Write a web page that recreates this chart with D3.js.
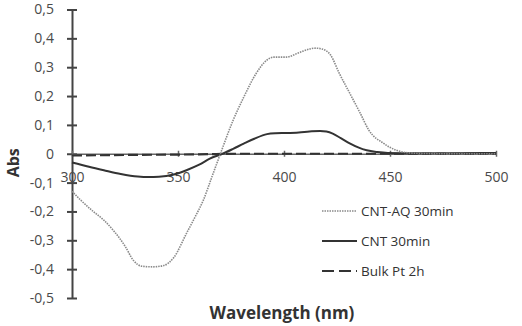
<!DOCTYPE html>
<html>
<head>
<meta charset="utf-8">
<script src="https://cdn.jsdelivr.net/npm/d3@7"></script>
<style>
  body { margin: 0; background: #fff; }
  svg { display: block; }
</style>
</head>
<body>
<svg id="chart" width="522" height="326"></svg>
<script>
// wavelength (nm) / absorbance
const aqWl  = [300, 304, 310, 315, 320, 325, 329, 333, 338, 343, 348, 354, 358, 362, 366, 370, 376, 381, 387, 392, 395, 401, 407, 412, 415, 418, 422, 426, 431, 436, 440, 447, 453, 459, 465, 480, 500];
const aqAbs = [-0.13, -0.16, -0.2, -0.23, -0.27, -0.32, -0.37, -0.39, -0.392, -0.388, -0.36, -0.276, -0.22, -0.16, -0.08, 0.0, 0.116, 0.196, 0.28, 0.325, 0.335, 0.335, 0.35, 0.363, 0.366, 0.363, 0.342, 0.28, 0.21, 0.14, 0.082, 0.036, 0.012, 0.003, 0.001, 0, 0];

const cntWl  = [300, 308, 315, 323, 331, 336, 341, 348, 354, 360, 365, 371, 376, 381, 386, 392, 396, 401, 407, 412, 417, 420, 423, 427, 431, 435, 439, 444, 449, 460, 480, 500];
const cntAbs = [-0.03, -0.045, -0.057, -0.07, -0.079, -0.081, -0.08, -0.072, -0.057, -0.038, -0.017, 0.0, 0.017, 0.035, 0.052, 0.068, 0.071, 0.072, 0.074, 0.077, 0.079, 0.077, 0.07, 0.053, 0.036, 0.022, 0.012, 0.006, 0.003, 0.002, 0.002, 0.003];

const bulkWl  = [300, 330, 360, 380, 420, 460, 500];
const bulkAbs = [-0.006, -0.004, -0.002, 0, 0, 0, 0];

const seriesNames = ["CNT-AQ 30min", "CNT 30min", "Bulk Pt 2h"];
const xTicks = [300, 350, 400, 450, 500];
const yTicks = [-0.5, -0.4, -0.3, -0.2, -0.1, 0, 0.1, 0.2, 0.3, 0.4, 0.5];

const svg = d3.select("#chart");
const font = "'Open Sans', 'DejaVu Sans', sans-serif";

const x = d3.scaleLinear().domain([300, 500]).range([72, 496]);
const y = d3.scaleLinear().domain([-0.5, 0.5]).range([298, 9.5]);

const loc = d3.formatLocale({decimal: ",", thousands: ".", grouping: [3], currency: ["", ""], minus: "-"});
const fmtY = d => d === 0 ? "0" : loc.format(".1f")(d);

// y axis
const gy = svg.append("g")
    .attr("transform", `translate(${x(300)},0)`)
    .call(d3.axisLeft(y).tickValues(yTicks).tickFormat(fmtY).tickSizeInner(5).tickSizeOuter(0).tickPadding(13));
gy.select(".domain").attr("stroke", "#444").attr("stroke-width", 2);
gy.selectAll(".tick line").attr("x1", 5).attr("stroke", "#444").attr("stroke-width", 2);
gy.selectAll(".tick text").attr("font-family", font).attr("font-size", 14).attr("fill", "#4a4a4a");

// x axis on the zero line
const gx = svg.append("g")
    .attr("transform", `translate(0,${y(0)})`)
    .call(d3.axisBottom(x).tickValues(xTicks).tickFormat(d3.format("d")).tickSizeInner(3).tickSizeOuter(0).tickPadding(15));
gx.select(".domain").attr("stroke", "#666").attr("stroke-width", 1.5);
gx.selectAll(".tick line").attr("y1", -3).attr("stroke", "#666").attr("stroke-width", 1.5);
gx.selectAll(".tick text").attr("font-family", font).attr("font-size", 14).attr("fill", "#4a4a4a");

// series
const series = [
  {wl: aqWl, abs: aqAbs, color: "#8a8a8a", width: 1.6, dash: "1.5,1"},
  {wl: cntWl, abs: cntAbs, color: "#333", width: 2, dash: null},
  {wl: bulkWl, abs: bulkAbs, color: "#333", width: 2.2, dash: "10,4"}
];

const line = d3.line().curve(d3.curveMonotoneX);
series.slice().reverse().forEach(s => {
  const pts = s.wl.map((w, i) => [x(w), y(s.abs[i])]);
  svg.append("path")
      .attr("d", line(pts))
      .attr("fill", "none")
      .attr("stroke", s.color)
      .attr("stroke-width", s.width)
      .attr("stroke-dasharray", s.dash);
});

// legend
const legend = svg.append("g").attr("transform", "translate(322,211)");
seriesNames.forEach((name, i) => {
  const row = legend.append("g").attr("transform", `translate(0,${i * 30})`);
  row.append("line")
      .attr("x1", 0).attr("x2", 35).attr("y1", 0).attr("y2", 0)
      .attr("stroke", series[i].color)
      .attr("stroke-width", series[i].width)
      .attr("stroke-dasharray", i === 2 ? "12,5" : series[i].dash);
  row.append("text")
      .attr("x", 39).attr("y", 0).attr("dy", "0.35em")
      .attr("font-family", font).attr("font-size", 13.5)
      .attr("fill", "#333")
      .text(name);
});

// axis titles
svg.append("text")
    .attr("transform", `translate(19,${y(0) + 9}) rotate(-90)`)
    .attr("text-anchor", "middle")
    .attr("font-family", font).attr("font-weight", "bold").attr("font-size", 16)
    .attr("fill", "#333")
    .text("Abs");

svg.append("text")
    .attr("x", 282).attr("y", 319)
    .attr("text-anchor", "middle")
    .attr("font-family", font).attr("font-weight", "bold").attr("font-size", 17)
    .attr("fill", "#333")
    .text("Wavelength (nm)");
</script>
</body>
</html>
